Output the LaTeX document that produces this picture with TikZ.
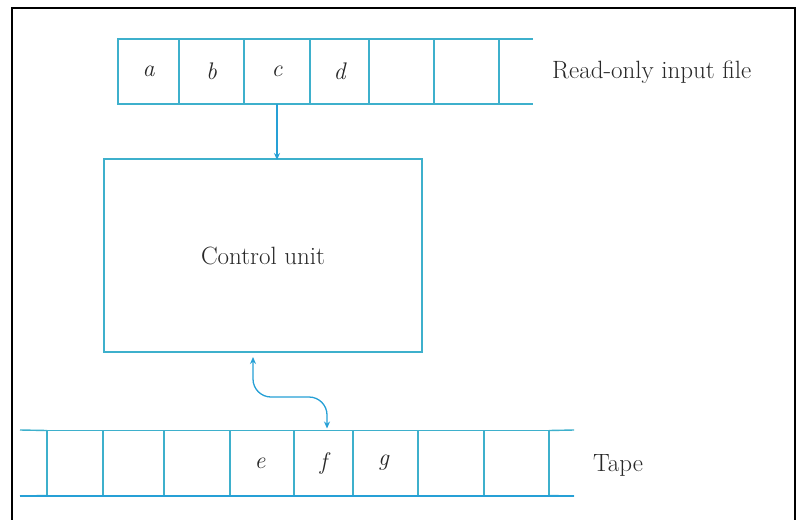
\documentclass[tikz,border=0pt]{standalone}
\usetikzlibrary{arrows.meta}
\definecolor{tapeline}{RGB}{62,176,204}
\definecolor{arrowblue}{RGB}{38,160,214}
\definecolor{ink}{RGB}{40,40,40}
\tikzset{
  cell/.style={draw=tapeline, line width=1.4pt, minimum height=65pt, inner sep=0pt,
    outer sep=0pt, font=\fontsize{24}{28}\selectfont\itshape, text=ink},
  tapeedge/.style={draw=tapeline, line width=1.4pt},
  label/.style={font=\fontsize{25}{29}\selectfont, text=ink, inner sep=0pt},
  link/.style={draw=arrowblue, line width=1.3pt, -{Stealth[length=7pt,width=6pt]}},
  frame/.style={draw=black, line width=2pt},
}
\begin{document}
\begin{tikzpicture}[x=1pt,y=-1pt]
\useasboundingbox (0,0) rectangle (799,519);
\fill[white] (0,0) rectangle (799,519);
% outer frame (open at the bottom edge)
\draw[frame] (12,520) -- (12,8) -- (795,8) -- (795,520);

% read-only input file
\node[cell, minimum width=61pt] (i1) at (148.5,71.5) {a};
\node[cell, minimum width=65pt] (i2) at (211.5,71.5) {b};
\node[cell, minimum width=66pt] (i3) at (277,71.5) {c};
\node[cell, minimum width=59pt] (i4) at (339.5,71.5) {d};
\node[cell, minimum width=65pt] (i5) at (401.5,71.5) {};
\node[cell, minimum width=65pt] (i6) at (466.5,71.5) {};
\coordinate (itop) at (533,39);
\coordinate (ibot) at (533,104);
\draw[tapeedge] (i6.north east) -- (itop);
\draw[tapeedge] (i6.south east) -- (ibot);
\node[label, anchor=west] (inlabel) at (552,72) {Read-only input file};

% control unit
\node[draw=tapeline, line width=1.4pt, minimum width=318pt, minimum height=193pt,
  label, inner sep=0pt, outer sep=0pt] (cu) at (263,255.5) {Control unit};

% tape
\node[cell, minimum width=56pt] (t1) at (75,463) {};
\node[cell, minimum width=61pt] (t2) at (133.5,463) {};
\node[cell, minimum width=66pt] (t3) at (197,463) {};
\node[cell, minimum width=64pt] (t4) at (262,463) {\hspace*{-4pt}e};
\node[cell, minimum width=59pt] (t5) at (323.5,463) {f};
\node[cell, minimum width=65pt] (t6) at (385.5,463) {\hspace*{-4pt}g};
\node[cell, minimum width=66pt] (t7) at (451,463) {};
\node[cell, minimum width=65pt] (t8) at (516.5,463) {};
\coordinate (ltop) at (20,430);
\coordinate (lbot) at (20,496);
\coordinate (rtop) at (574,430);
\coordinate (rbot) at (574,496);
\draw[tapeedge] (ltop) -- (t1.north west);
\draw[tapeedge] (lbot) -- (t1.south west);
\draw[tapeedge] (t8.north east) -- (rtop);
\draw[tapeedge] (t8.south east) -- (rbot);
\draw[draw=arrowblue, line width=2pt] (lbot) -- (rbot);
\node[label] (tapelabel) at (618,465) {Tape};

% read head on the input file
\draw[link] (i3.south) -- ([yshift=-1pt]i3.south |- cu.north);
% read/write head on the tape
\draw[link, {Stealth[length=7pt,width=6pt]}-{Stealth[length=7pt,width=6pt]}, rounded corners=18pt]
  ([xshift=-10pt, yshift=-5pt]cu.south) -- ++(0,40) -| ([xshift=3.5pt, yshift=2pt]t5.north);
\end{tikzpicture}
\end{document}
